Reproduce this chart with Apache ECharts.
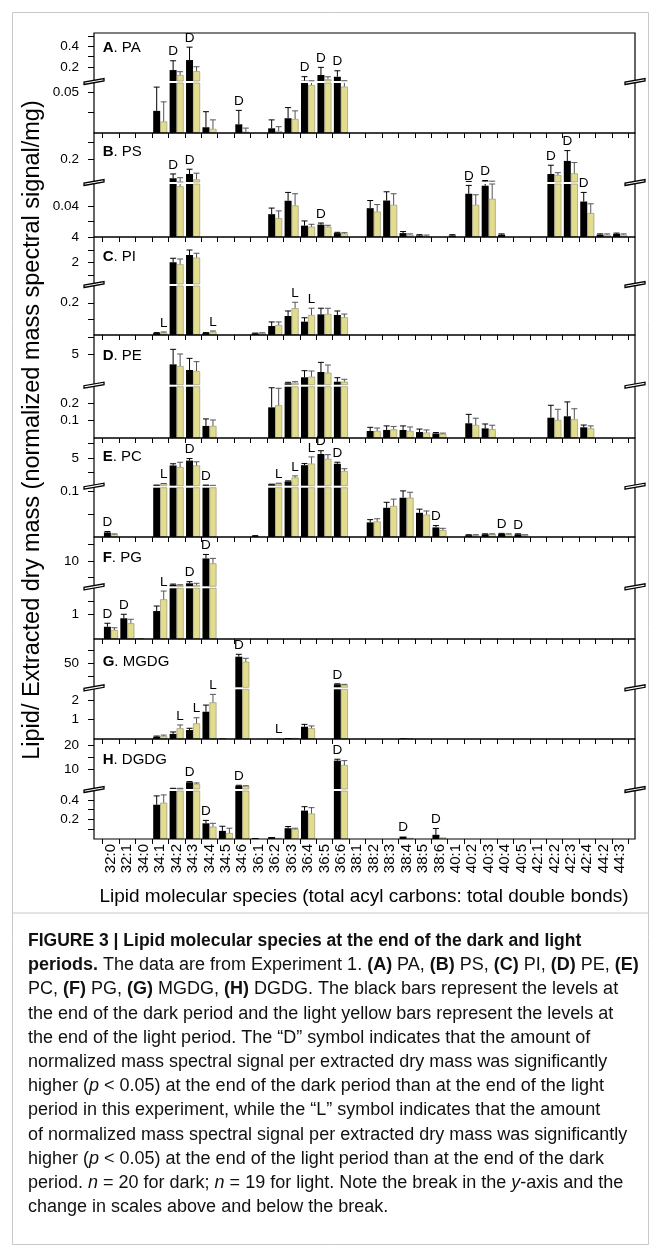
<!DOCTYPE html>
<html><head><meta charset="utf-8">
<script src="https://cdn.jsdelivr.net/npm/echarts@6/dist/echarts.min.js"></script>
<style>html,body{margin:0;padding:0;background:#fff}#c{width:661px;height:1257px}</style>
</head><body><div id="c"></div>
<script>
const n = null;
const categories = ['32:0','32:1','34:0','34:1','34:2','34:3','34:4','34:5','34:6','36:1','36:2','36:3','36:4','36:5','36:6','38:1','38:2','38:3','38:4','38:5','38:6','40:1','40:2','40:3','40:4','40:5','42:1','42:2','42:3','42:4','44:2','44:3'];

// A. PA
const paDark   = [n,n,n,0.027,0.171,0.268,0.007,n, 0.0106,n,0.0057,0.018,0.068,0.123,0.106,n, n,n,n,n,n,n,n,n, n,n,n,n,n,n,n,n];
const paDarkSE = [n,n,n,0.029,0.09,0.125,0.019,n, 0.017,n,0.0103,0.013,0.039,0.074,0.058,n, n,n,n,n,n,n,n,n, n,n,n,n,n,n,n,n];
const paLight  = [n,n,n,0.014,0.123,0.16,0.005,n, 0.0016,n,0.0024,0.017,0.0585,0.081,0.0566,n, n,n,n,n,n,n,n,n, n,n,n,n,n,n,n,n];
const paLightSE= [n,n,n,0.024,0.032,0.043,0.011,n, 0.0044,n,0.0053,0.010,0.009,0.025,0.011,n, n,n,n,n,n,n,n,n, n,n,n,n,n,n,n,n];
const paSig    = ['','','','','D','D','','', 'D','','','','D','D','D','', '','','','','','','','', '','','','','','','',''];
const paLowerRange = [0, 0.061], paUpperRange = [0.065, 0.53];
const paLowerTicks = [0.025, 0.05], paLowerLabels = [0.05];
const paUpperTicks = [0.2, 0.3, 0.4, 0.5], paUpperLabels = [0.2, 0.4];

// B. PS
const psDark   = [n,n,n,n,0.0855,0.111,n,n, n,n,0.0293,0.0465,0.0146,0.0159,0.005,n, 0.037,0.0468,0.005,0.002,n,0.002,0.0555,0.0658, 0.003,n,n,0.111,0.19,0.0455,0.003,0.004];
const psDarkSE = [n,n,n,n,0.026,0.029,n,n, n,n,0.0078,0.0107,0.006,0.002,0.001,n, 0.0098,0.0112,0.002,0.001,n,0.001,0.0107,0.006, 0.001,n,n,0.053,0.062,0.0117,0.001,0.001];
const psLight  = [n,n,n,n,0.065,0.079,n,n, n,n,0.0241,0.0404,0.0133,0.0133,0.0045,n, 0.0326,0.0413,0.003,0.0015,n,n,0.0413,0.049, n,n,n,0.105,0.115,0.0306,0.003,0.003];
const psLightSE= [n,n,n,n,0.024,0.037,n,n, n,n,0.0094,0.0151,0.003,0.0017,0.001,n, 0.009,0.0142,0.001,0.001,n,n,0.0129,0.019, n,n,n,0.014,0.065,0.012,0.001,0.001];
const psSig    = ['','','','','D','D','','', '','','','','','D','','', '','','','','','','D','D', '','','','D','D','D','',''];
const psLowerRange = [0, 0.068], psUpperRange = [0.063, 0.358];
const psLowerTicks = [0.02, 0.04], psLowerLabels = [0.04];
const psUpperTicks = [0.2, 0.3], psUpperLabels = [0.2];

// C. PI
const piDark   = [n,n,n,0.012,2.0,2.58,0.012,n, n,0.01,0.056,0.118,0.083,0.128,0.124,n, n,n,n,n,n,n,n,n, n,n,n,n,n,n,n,n];
const piDarkSE = [n,n,n,0.003,0.32,0.4,0.003,n, n,0.002,0.025,0.031,0.024,0.038,0.025,n, n,n,n,n,n,n,n,n, n,n,n,n,n,n,n,n];
const piLight  = [n,n,n,0.015,1.84,2.37,0.02,n, n,0.012,0.062,0.166,0.124,0.13,0.11,n, n,n,n,n,n,n,n,n, n,n,n,n,n,n,n,n];
const piLightSE= [n,n,n,0.004,0.42,0.35,0.005,n, n,0.002,0.019,0.037,0.042,0.036,0.02,n, n,n,n,n,n,n,n,n, n,n,n,n,n,n,n,n];
const piSig    = ['','','','L','','','L','', '','','','L','L','','','', '','','','','','','','', '','','','','','','',''];
const piLowerRange = [0, 0.304], piUpperRange = [0.26, 4.02];
const piLowerTicks = [0.1, 0.2], piLowerLabels = [0.2];
const piUpperTicks = [1, 2, 3, 4], piUpperLabels = [2, 4];

// D. PE
const peDark   = [n,n,n,n,3.5,2.65,0.069,n, n,n,0.175,0.66,1.56,2.35,0.9,n, 0.04,0.046,0.046,0.034,0.026,n,0.084,0.055, n,n,n,0.116,0.124,0.061,n,n];
const peDarkSE = [n,n,n,n,2.25,1.75,0.04,n, n,n,0.112,0.15,0.99,1.45,0.6,n, 0.021,0.023,0.023,0.017,0.005,n,0.051,0.025, n,n,n,0.071,0.082,0.013,n,n];
const peLight  = [n,n,n,n,3.25,2.5,0.069,n, n,n,0.187,0.75,1.65,2.25,0.9,n, 0.04,0.049,0.04,0.031,0.023,n,0.074,0.05, n,n,n,0.103,0.107,0.055,n,n];
const peLightSE= [n,n,n,n,1.8,1.4,0.034,n, n,n,0.097,0.15,0.85,1.15,0.36,n, 0.017,0.017,0.023,0.015,0.005,n,0.039,0.023, n,n,n,0.061,0.06,0.014,n,n];
const peSig    = ['','','','','','','','', '','','','','','','','', '','','','','','','','', '','','','','','','',''];
const peLowerRange = [0, 0.293], peUpperRange = [0.45, 7.9];
const peLowerTicks = [0.1, 0.2], peLowerLabels = [0.1, 0.2];
const peUpperTicks = [5, 7.5], peUpperLabels = [5];

// E. PC
const pcDark   = [0.01,n,n,0.2,3.67,4.53,0.2,n, n,0.002,0.35,0.86,3.72,5.69,3.97,n, 0.032,0.064,0.086,0.053,0.021,n,0.004,0.006, 0.007,0.006,n,n,n,n,n,n];
const pcDarkSE = [0.002,n,n,0.02,0.3,0.35,0.02,n, n,0.001,0.03,0.1,0.28,0.57,0.27,n, 0.006,0.012,0.015,0.008,0.004,n,0.001,0.001, 0.001,0.001,n,n,n,n,n,n];
const pcLight  = [0.0058,n,n,0.45,3.38,3.67,0.15,n, n,n,0.5,1.55,4.0,4.83,2.69,n, 0.034,0.068,0.086,0.049,0.015,n,0.004,0.006, 0.006,0.004,n,n,n,n,n,n];
const pcLightSE= [0.001,n,n,0.05,0.86,0.64,0.02,n, n,n,0.05,0.28,1.17,0.74,0.41,n, 0.006,0.015,0.012,0.008,0.004,n,0.001,0.001, 0.001,0.001,n,n,n,n,n,n];
const pcSig    = ['D','','','L','','D','D','', '','','L','L','L','D','D','', '','','','','D','','','', 'D','D','','','','','',''];
const pcLowerRange = [0, 0.108], pcUpperRange = [0.11, 8.5];
const pcLowerTicks = [0.05, 0.1], pcLowerLabels = [0.1];
const pcUpperTicks = [2.5, 5, 7.5], pcUpperLabels = [5];

// F. PG
const pgDark   = [0.49,0.83,0.02,1.12,2.8,3.24,10.8,n, n,n,n,n,n,n,n,n, n,n,n,n,n,n,n,n, n,n,n,n,n,n,n,n];
const pgDarkSE = [0.14,0.16,n,0.2,0.2,0.49,1.2,n, n,n,n,n,n,n,n,n, n,n,n,n,n,n,n,n, n,n,n,n,n,n,n,n];
const pgLight  = [0.36,0.63,n,1.59,2.6,2.73,9.3,n, n,n,n,n,n,n,n,n, n,n,n,n,n,n,n,n, n,n,n,n,n,n,n,n];
const pgLightSE= [0.09,0.16,n,0.33,0.2,0.51,1.5,n, n,n,n,n,n,n,n,n, n,n,n,n,n,n,n,n, n,n,n,n,n,n,n,n];
const pgSig    = ['D','D','','L','','D','D','', '','','','','','','','', '','','','','','','','', '','','','','','','',''];
const pgLowerRange = [0, 2.03], pgUpperRange = [2.33, 17.3];
const pgLowerTicks = [1, 1.5], pgLowerLabels = [1];
const pgUpperTicks = [5, 10, 15], pgUpperLabels = [10];

// G. MGDG
const mgDark   = [n,n,n,0.12,0.26,0.46,1.4,0.03, 62.4,n,0.01,0.05,0.63,n,10.6,n, n,n,0.04,n,n,n,n,n, n,n,n,n,n,n,n,n];
const mgDarkSE = [n,n,n,0.03,0.1,0.09,0.34,n, 4.5,n,n,n,0.12,n,1.0,n, n,n,n,n,n,n,n,n, n,n,n,n,n,n,n,n];
const mgLight  = [n,n,n,0.15,0.55,0.8,1.88,n, 53,n,0.02,0.05,0.55,n,9.3,n, n,n,0.02,n,n,n,n,n, n,n,n,n,n,n,n,n];
const mgLightSE= [n,n,n,0.05,0.17,0.29,0.41,n, 6.4,n,n,n,0.12,n,1.2,n, n,n,n,n,n,n,n,n, n,n,n,n,n,n,n,n];
const mgSig    = ['','','','','L','L','L','', 'D','','L','','','','D','', '','','','','','','','', '','','','','','','',''];
const mgLowerRange = [0, 2.55], mgUpperRange = [5, 95.6];
const mgLowerTicks = [1, 2], mgLowerLabels = [1, 2];
const mgUpperTicks = [25, 50, 75], mgUpperLabels = [50];

// H. DGDG
const dgDark   = [n,n,n,0.35,1.6,4.3,0.16,0.083, 2.8,0.01,0.02,0.11,0.29,n,13.6,n, n,n,0.025,n,0.043,n,n,n, n,n,n,n,n,n,n,n];
const dgDarkSE = [n,n,n,0.09,0.1,0.3,0.03,0.047, 0.2,n,n,0.017,0.04,n,0.6,n, n,n,n,n,0.064,n,n,n, n,n,n,n,n,n,n,n];
const dgLight  = [n,n,n,0.37,1.6,3.56,0.126,0.06, 2.7,n,0.01,0.1,0.26,n,11.7,n, n,n,0.01,n,0.015,n,n,n, n,n,n,n,n,n,n,n];
const dgLightSE= [n,n,n,0.08,0.1,0.44,0.034,0.05, 0.1,n,n,0.01,0.06,n,1.9,n, n,n,n,n,n,n,n,n, n,n,n,n,n,n,n,n];
const dgSig    = ['','','','','','D','D','', 'D','','','','','','D','', '','','D','','D','','','', '','','','','','','',''];
const dgLowerRange = [0, 0.49], dgUpperRange = [1.4, 22.9];
const dgLowerTicks = [0.1, 0.2, 0.3, 0.4], dgLowerLabels = [0.2, 0.4];
const dgUpperTicks = [10, 15, 20], dgUpperLabels = [10, 20];

const panels = [
  {letter:'A', name:'PA', dark:paDark, darkSE:paDarkSE, light:paLight, lightSE:paLightSE, sig:paSig, lower:paLowerRange, upper:paUpperRange, lt:paLowerTicks, ll:paLowerLabels, ut:paUpperTicks, ul:paUpperLabels},
  {letter:'B', name:'PS', dark:psDark, darkSE:psDarkSE, light:psLight, lightSE:psLightSE, sig:psSig, lower:psLowerRange, upper:psUpperRange, lt:psLowerTicks, ll:psLowerLabels, ut:psUpperTicks, ul:psUpperLabels},
  {letter:'C', name:'PI', dark:piDark, darkSE:piDarkSE, light:piLight, lightSE:piLightSE, sig:piSig, lower:piLowerRange, upper:piUpperRange, lt:piLowerTicks, ll:piLowerLabels, ut:piUpperTicks, ul:piUpperLabels},
  {letter:'D', name:'PE', dark:peDark, darkSE:peDarkSE, light:peLight, lightSE:peLightSE, sig:peSig, lower:peLowerRange, upper:peUpperRange, lt:peLowerTicks, ll:peLowerLabels, ut:peUpperTicks, ul:peUpperLabels},
  {letter:'E', name:'PC', dark:pcDark, darkSE:pcDarkSE, light:pcLight, lightSE:pcLightSE, sig:pcSig, lower:pcLowerRange, upper:pcUpperRange, lt:pcLowerTicks, ll:pcLowerLabels, ut:pcUpperTicks, ul:pcUpperLabels},
  {letter:'F', name:'PG', dark:pgDark, darkSE:pgDarkSE, light:pgLight, lightSE:pgLightSE, sig:pgSig, lower:pgLowerRange, upper:pgUpperRange, lt:pgLowerTicks, ll:pgLowerLabels, ut:pgUpperTicks, ul:pgUpperLabels},
  {letter:'G', name:'MGDG', dark:mgDark, darkSE:mgDarkSE, light:mgLight, lightSE:mgLightSE, sig:mgSig, lower:mgLowerRange, upper:mgUpperRange, lt:mgLowerTicks, ll:mgLowerLabels, ut:mgUpperTicks, ul:mgUpperLabels},
  {letter:'H', name:'DGDG', dark:dgDark, darkSE:dgDarkSE, light:dgLight, lightSE:dgLightSE, sig:dgSig, lower:dgLowerRange, upper:dgUpperRange, lt:dgLowerTicks, ll:dgLowerLabels, ut:dgUpperTicks, ul:dgUpperLabels}
];

// ---- layout (pixels) ----
const L = {
  gridLeft: 102.7, gridRight: 628.3, axisX: 94, frameRight: 635,
  tops:    [33, 133, 237, 335, 438, 537, 639, 739],
  breaks:  [82, 183, 285, 385.7, 486.7, 587.3, 688.3, 790],
  bottoms: [133, 237, 335, 438, 537, 639, 739, 839],
  titleY:  [48, 152, 257, 356, 457, 558, 662, 760],
  barW: 7
};
const FONT = "'Liberation Sans', Arial, Helvetica, sans-serif";
const DARK = '#000000', LIGHT = '#e1dc8e', LIGHT_EDGE = '#8e8c6e';

const chart = echarts.init(document.getElementById('c'), null, {renderer: 'canvas'});
const grid = [], xAxis = [], yAxis = [], series = [], graphic = [];

function errRender(p, seg) {
  const lo = seg.range[0], hi = seg.range[1];
  return function (params, api) {
    const cs = params.coordSys;
    const top = cs.y, bot = cs.y + cs.height;
    const i = api.value(0);
    const cx = api.coord([i, lo])[0];
    const kids = [];
    const groups = [
      {v: p.dark[i], se: p.darkSE[i], x: cx - L.barW / 2, col: '#000'},
      {v: p.light[i], se: p.lightSE[i], x: cx + L.barW / 2, col: '#555'}
    ];
    groups.forEach(g => {
      if (g.v == null || g.se == null) return;
      const tv = g.v + g.se;
      if (tv <= lo || g.v >= hi) return;           // error bar not inside this segment
      const yv = api.coord([i, Math.max(g.v, lo)])[1];
      const yt = api.coord([i, Math.min(tv, hi)])[1];
      kids.push({type: 'line', shape: {x1: g.x, y1: Math.min(yv, bot), x2: g.x, y2: Math.max(yt, top)}, style: {stroke: g.col, lineWidth: 1}});
      if (tv <= hi) {
        kids.push({type: 'line', shape: {x1: g.x - 3, y1: yt, x2: g.x + 3, y2: yt}, style: {stroke: g.col, lineWidth: 1}});
      }
    });
    const s = p.sig[i];
    if (s) {
      const isD = s === 'D';
      const v = isD ? p.dark[i] : p.light[i];
      const se = (isD ? p.darkSE[i] : p.lightSE[i]) || 0;
      if (v != null) {
        const a = v + se;
        const inSeg = seg.isLower ? a <= hi : a > p.lower[1];
        if (inSeg) {
          let ya = api.coord([i, Math.max(Math.min(a, hi), lo)])[1];
          kids.push({type: 'text', x: isD ? cx - L.barW / 2 : cx + L.barW / 2, y: ya - 2,
            style: {text: s, fontFamily: FONT, fontSize: 13.5, fill: '#000', align: 'center', verticalAlign: 'bottom'}});
        }
      }
    }
    return {type: 'group', children: kids};
  };
}

panels.forEach((p, k) => {
  const segs = [
    {top: L.tops[k], bottom: L.breaks[k] - 1, range: p.upper, ticks: p.ut, labels: p.ul, isLower: false},
    {top: L.breaks[k] + 1, bottom: L.bottoms[k], range: p.lower, ticks: p.lt, labels: p.ll, isLower: true}
  ];
  segs.forEach(seg => {
    const gi = grid.length;
    // values below the segment's floor are not drawn in the upper segment
    const keep = arr => arr.map(v => (v == null || (!seg.isLower && v <= seg.range[0])) ? null : v);
    grid.push({left: L.gridLeft, width: L.gridRight - L.gridLeft, top: seg.top, height: seg.bottom - seg.top, containLabel: false});
    xAxis.push({
      gridIndex: gi, type: 'category', data: categories, boundaryGap: true,
      axisLine: {show: false},
      axisTick: {show: seg.isLower, length: 5, inside: false, lineStyle: {color: '#000', width: 1}},
      axisLabel: {show: seg.isLower && k === 7, rotate: 90, interval: 0, margin: 5, fontFamily: FONT, fontSize: 15, color: '#000'},
      splitLine: {show: false}
    });
    yAxis.push({
      gridIndex: gi, type: 'value', min: seg.range[0], max: seg.range[1], offset: L.gridLeft - L.axisX,
      axisLine: {show: false},
      axisTick: {show: true, customValues: seg.ticks, length: 6, lineStyle: {color: '#000', width: 1}},
      axisLabel: {show: true, customValues: seg.labels, margin: 15, fontFamily: FONT, fontSize: 13.5, color: '#000'},
      splitLine: {show: false}
    });
    series.push({type: 'bar', xAxisIndex: gi, yAxisIndex: gi, data: keep(p.dark), barWidth: L.barW, barGap: '0%',
      itemStyle: {color: DARK}, silent: true, animation: false});
    series.push({type: 'bar', xAxisIndex: gi, yAxisIndex: gi, data: keep(p.light), barWidth: L.barW, barGap: '0%',
      itemStyle: {color: LIGHT, borderColor: LIGHT_EDGE, borderWidth: 0.6}, silent: true, animation: false});
    series.push({type: 'custom', xAxisIndex: gi, yAxisIndex: gi, data: categories.map((c, i) => [i, seg.range[0]]),
      encode: {x: 0, y: 1}, renderItem: errRender(p, seg), silent: true, animation: false, z: 5});
  });
  graphic.push({type: 'rect', shape: {x: L.axisX, y: L.tops[k], width: L.frameRight - L.axisX, height: L.bottoms[k] - L.tops[k]},
    style: {fill: 'none', stroke: '#000', lineWidth: 1.2}, z: 10, silent: true});
  [L.axisX, L.frameRight].forEach(bx => {
    const by = L.breaks[k];
    graphic.push({type: 'polygon', shape: {points: [[bx - 10, by + 2.5], [bx + 10, by - 1], [bx + 10, by - 3.5], [bx - 10, by]]},
      style: {fill: '#fff', stroke: '#000', lineWidth: 1.3}, z: 11, silent: true});
  });
  graphic.push({type: 'text', x: L.gridLeft, y: L.titleY[k], z: 12, silent: true,
    style: {text: '{b|' + p.letter + '}{n|. ' + p.name + '}', verticalAlign: 'middle', align: 'left',
      rich: {b: {fontFamily: FONT, fontSize: 15, fontWeight: 'bold', fill: '#000'}, n: {fontFamily: FONT, fontSize: 15, fill: '#000'}}}});
});

graphic.push({type: 'text', x: 33, y: 430, rotation: Math.PI / 2, z: 12, silent: true,
  style: {text: 'Lipid/ Extracted dry mass (normalized mass spectral signal/mg)', fontFamily: FONT, fontSize: 23.5, fill: '#000', align: 'center', verticalAlign: 'middle'}});
graphic.push({type: 'text', x: 364, y: 897, z: 12, silent: true,
  style: {text: 'Lipid molecular species (total acyl carbons: total double bonds)', fontFamily: FONT, fontSize: 19, fill: '#000', align: 'center', verticalAlign: 'middle'}});

graphic.push({type: 'rect', shape: {x: 12.5, y: 12.5, width: 636, height: 1232}, style: {fill: 'none', stroke: '#c8c8c8', lineWidth: 1}, z: 1, silent: true});
graphic.push({type: 'line', shape: {x1: 12.5, y1: 913, x2: 648.5, y2: 913}, style: {stroke: '#c8c8c8', lineWidth: 1}, z: 1, silent: true});

const captionLines = [
  '{b|FIGURE 3 | Lipid molecular species at the end of the dark and light}',
  '{b|periods.}{n| The data are from Experiment 1. }{b|(A)}{n| PA, }{b|(B)}{n| PS, }{b|(C)}{n| PI, }{b|(D)}{n| PE, }{b|(E)}',
  '{n|PC, }{b|(F)}{n| PG, }{b|(G)}{n| MGDG, }{b|(H)}{n| DGDG. The black bars represent the levels at}',
  '{n|the end of the dark period and the light yellow bars represent the levels at}',
  '{n|the end of the light period. The \u201cD\u201d symbol indicates that the amount of}',
  '{n|normalized mass spectral signal per extracted dry mass was significantly}',
  '{n|higher (}{i|p}{n| < 0.05) at the end of the dark period than at the end of the light}',
  '{n|period in this experiment, while the \u201cL\u201d symbol indicates that the amount}',
  '{n|of normalized mass spectral signal per extracted dry mass was significantly}',
  '{n|higher (}{i|p}{n| < 0.05) at the end of the light period than at the end of the dark}',
  '{n|period. }{i|n}{n| = 20 for dark; }{i|n}{n| = 19 for light. Note the break in the }{i|y}{n|-axis and the}',
  '{n|change in scales above and below the break.}'
];
const capFS = 18;
captionLines.forEach((t, j) => {
  graphic.push({type: 'text', x: 28, y: 941 + j * 24.2, z: 12, silent: true,
    style: {text: t, verticalAlign: 'middle', align: 'left',
      rich: {
        b: {fontFamily: FONT, fontSize: j === 0 ? 17.5 : capFS, fontWeight: 'bold', fill: '#111'},
        n: {fontFamily: FONT, fontSize: capFS, fill: '#111'},
        i: {fontFamily: FONT, fontSize: capFS, fontStyle: 'italic', fill: '#111'}
      }}});
});

chart.setOption({animation: false, grid, xAxis, yAxis, series, graphic});
</script></body></html>
